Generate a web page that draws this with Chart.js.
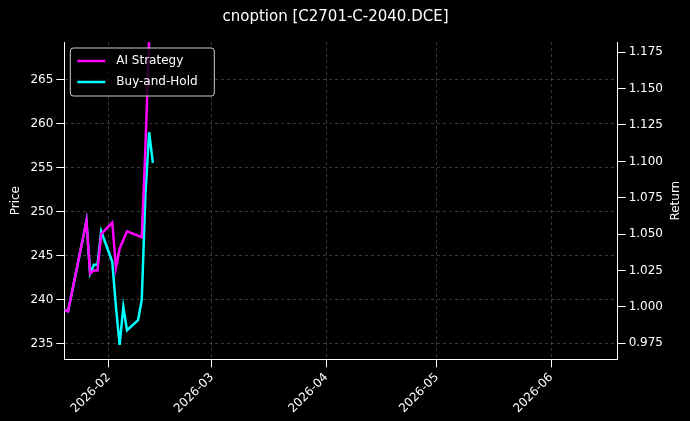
<!DOCTYPE html>
<html><head><meta charset="utf-8">
<script src="https://cdn.jsdelivr.net/npm/chart.js@4"></script>
<style>html,body{margin:0;background:#000}#wrap{width:690px;height:421px}</style>
</head><body><div id="wrap"><canvas id="c"></canvas></div>
<script>
// dates (YYYY-MM-DD) and returns
const bhDates = ['2026-01-20','2026-01-21','2026-01-22','2026-01-26','2026-01-27','2026-01-28','2026-01-29','2026-01-30','2026-02-02','2026-02-03','2026-02-04','2026-02-05','2026-02-06','2026-02-09','2026-02-10','2026-02-11','2026-02-12','2026-02-13'];
const bhReturns = [0.998,0.997,1.009,1.059,1.023,1.029,1.029,1.052,1.031,1.000,0.974,1.000,0.984,0.991,1.005,1.078,1.120,1.099];
const aiDates = ['2026-01-20','2026-01-21','2026-01-22','2026-01-26','2026-01-27','2026-01-28','2026-01-29','2026-01-30','2026-02-02','2026-02-03','2026-02-04','2026-02-06','2026-02-10','2026-02-11','2026-02-12'];
const aiReturns = [0.998,0.997,1.009,1.059,1.023,1.025,1.025,1.050,1.058,1.027,1.040,1.052,1.048,1.110,1.185];
const monthTicks = ['2026-02-01','2026-03-01','2026-04-01','2026-05-01','2026-06-01'];

Chart.defaults.font.family = 'DejaVu Sans';
const ts = d => Date.parse(d + 'T00:00:00Z');
const pts = (ds, vs) => ds.map((d, i) => ({x: ts(d), y: vs[i]}));
const fmt = v => { const d = new Date(v); return d.getUTCFullYear() + '-' + String(d.getUTCMonth() + 1).padStart(2, '0'); };
const grid = {color: 'rgba(160,160,160,0.35)', tickColor: '#fff'};
const border = {color: '#fff', dash: [3, 3]};

// legend box inside plot + right axis title reading upwards
const extras = {
    id: 'extras',
    afterDraw(chart) {
        const c = chart.ctx, a = chart.chartArea;
        c.save();
        const x = a.left + 6, y = a.top + 6;
        c.fillStyle = 'rgba(0,0,0,0.8)';
        c.strokeStyle = '#ccc';
        c.lineWidth = 1;
        c.beginPath();
        c.roundRect(x, y, 144, 48, 3);
        c.fill(); c.stroke();
        c.font = '12px DejaVu Sans';
        c.textBaseline = 'middle';
        chart.data.datasets.forEach((ds, i) => {
            const ly = y + 13 + i * 21;
            c.strokeStyle = ds.borderColor; c.lineWidth = 2.5;
            c.beginPath(); c.moveTo(x + 7, ly); c.lineTo(x + 35, ly); c.stroke();
            c.fillStyle = '#fff';
            c.fillText(ds.label, x + 46, ly);
        });
        c.translate(676, (a.top + a.bottom) / 2);
        c.rotate(-Math.PI / 2);
        c.textAlign = 'center';
        c.fillText('Return', 0, 0);
        c.restore();
    }
};

new Chart(document.getElementById('c'), {
    type: 'line',
    data: {
        datasets: [
            {label: 'AI Strategy', data: pts(aiDates, aiReturns), borderColor: '#ff00ff', borderWidth: 2.5, pointRadius: 0, yAxisID: 'y1'},
            {label: 'Buy-and-Hold', data: pts(bhDates, bhReturns), borderColor: '#00ffff', borderWidth: 2.5, pointRadius: 0, yAxisID: 'y1'}
        ]
    },
    options: {
        responsive: true, maintainAspectRatio: false, animation: false,
        layout: {padding: {left: 5, right: 24, top: 4, bottom: 2}},
        plugins: {
            title: {display: true, text: 'cnoption [C2701-C-2040.DCE]', color: '#fff', font: {size: 15, weight: 'normal'}, padding: {top: 4, bottom: 16}},
            legend: {display: false},
            tooltip: {enabled: false}
        },
        scales: {
            x: {
                type: 'linear', min: ts('2026-01-20'), max: ts('2026-06-19'),
                afterBuildTicks: s => { s.ticks = monthTicks.map(m => ({value: ts(m)})); },
                ticks: {color: '#fff', callback: v => fmt(v), maxRotation: 45, minRotation: 45, font: {size: 12}},
                grid: grid, border: border
            },
            y: {
                position: 'left', min: 233.25, max: 269.3, display: true,
                afterBuildTicks: s => { s.ticks = [235,240,245,250,255,260,265].map(v => ({value: v})); },
                ticks: {color: '#fff', font: {size: 12}},
                title: {display: true, text: 'Price', color: '#fff', font: {size: 12}},
                grid: grid, border: border
            },
            y1: {
                position: 'right', min: 0.964, max: 1.182,
                afterBuildTicks: s => { s.ticks = [0.975,1.0,1.025,1.05,1.075,1.1,1.125,1.15,1.175].map(v => ({value: v})); },
                ticks: {color: '#fff', callback: v => v.toFixed(3), font: {size: 12}},
                grid: {drawOnChartArea: false, tickColor: '#fff'}, border: {color: '#fff'}
            }
        }
    },
    plugins: [extras]
});
</script></body></html>
